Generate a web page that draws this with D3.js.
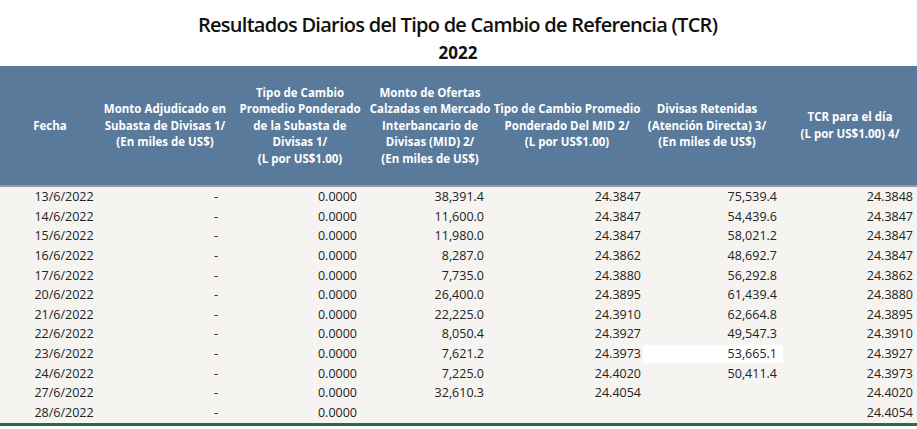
<!DOCTYPE html><html><head><meta charset="utf-8"><script src="https://cdn.jsdelivr.net/npm/d3@7"></script>
<style>body{margin:0;background:#fff}</style></head><body><svg id="c" width="917" height="429"></svg>
<script>
const fechas=["13/6/2022","14/6/2022","15/6/2022","16/6/2022","17/6/2022","20/6/2022","21/6/2022","22/6/2022","23/6/2022","24/6/2022","27/6/2022","28/6/2022"];
const montoSubasta=["-","-","-","-","-","-","-","-","-","-","-","-"];
const tipoSubasta=["0.0000","0.0000","0.0000","0.0000","0.0000","0.0000","0.0000","0.0000","0.0000","0.0000","0.0000","0.0000"];
const montoMID=["38,391.4","11,600.0","11,980.0","8,287.0","7,735.0","26,400.0","22,225.0","8,050.4","7,621.2","7,225.0","32,610.3",""];
const tipoMID=["24.3847","24.3847","24.3847","24.3862","24.3880","24.3895","24.3910","24.3927","24.3973","24.4020","24.4054",""];
const retenidas=["75,539.4","54,439.6","58,021.2","48,692.7","56,292.8","61,439.4","62,664.8","49,547.3","53,665.1","50,411.4","",""];
const tcr=["24.3848","24.3847","24.3847","24.3847","24.3862","24.3880","24.3895","24.3910","24.3927","24.3973","24.4020","24.4054"];
const headers=[["Fecha"],["Monto Adjudicado en","Subasta de Divisas 1/","(En miles de US$)"],["Tipo de Cambio","Promedio Ponderado","de la Subasta de","Divisas  1/","(L por US$1.00)"],["Monto de Ofertas","Calzadas en Mercado","Interbancario de","Divisas (MID) 2/","(En miles de US$)"],["Tipo de Cambio Promedio","Ponderado Del MID 2/","(L por US$1.00)"],["Divisas Retenidas","(Atención Directa)  3/","(En miles de US$)"],["TCR para el día","(L por US$1.00) 4/"]];
const cols=[fechas,montoSubasta,tipoSubasta,montoMID,tipoMID,retenidas,tcr];
const svg=d3.select("#c");
const F="'Open Sans',sans-serif";
svg.append("text").attr("x",458).attr("y",32).attr("text-anchor","middle").attr("font-family",F).attr("font-size",20).attr("font-weight",600).attr("fill","#111").attr("textLength",520).text("Resultados Diarios del Tipo de Cambio de Referencia (TCR)");
svg.append("text").attr("x",458).attr("y",59).attr("text-anchor","middle").attr("font-family",F).attr("font-size",17).attr("font-weight",700).attr("fill","#111").text("2022");
const hx=[50,165,300,430,567,707,850];
const hTop=66,hBot=185;
svg.append("rect").attr("x",0).attr("y",hTop).attr("width",917).attr("height",hBot-hTop).attr("fill","#5a7a9b");
const y=d3.scaleBand().domain(d3.range(fechas.length)).range([187,422]);
svg.append("rect").attr("x",0).attr("y",186).attr("width",917).attr("height",237).attr("fill","#f5f4f1");
svg.append("line").attr("x1",0).attr("x2",917).attr("y1",186).attr("y2",186).attr("stroke","#9a9a9a").attr("stroke-width",2);
svg.append("rect").attr("x",0).attr("y",423).attr("width",917).attr("height",3).attr("fill","#2e6b45");
// white highlighted cell
svg.append("rect").attr("x",643).attr("y",y(8)+1).attr("width",140).attr("height",y.bandwidth()-1).attr("fill","#fff");
headers.forEach((h,i)=>{const lh=16.5;const cy=(hTop+hBot)/2+ (i===0?0:0);const t=svg.append("text").attr("text-anchor","middle").attr("font-family",F).attr("font-size",11.5).attr("font-weight",700).attr("fill","#fff");
 h.forEach((l,j)=>t.append("tspan").attr("x",hx[i]).attr("y",cy-(h.length-1)*lh/2+j*lh+4).text(l));});
const cx=[[64,"middle"],[216,"middle"],[357,"end"],[484,"end"],[641,"end"],[777,"end"],[913,"end"]];
cols.forEach((c,i)=>c.forEach((v,r)=>{svg.append("text").attr("x",cx[i][0]).attr("y",y(r)+y.bandwidth()/2+4.5).attr("text-anchor",cx[i][1]).attr("font-family",F).attr("font-size",12.5).attr("fill","#222").text(v);}));
</script></body></html>
